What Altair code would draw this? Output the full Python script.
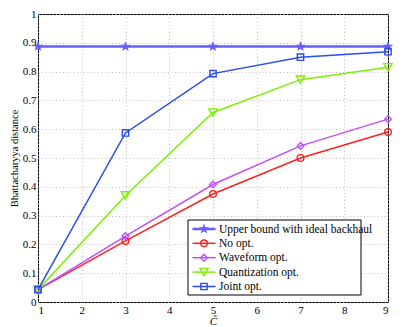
import math
import altair as alt
import pandas as pd

# ---- data ----
c_values = [1, 3, 5, 7, 9]
upper_bound = [0.887, 0.887, 0.887, 0.887, 0.887]
no_opt = [0.043, 0.212, 0.375, 0.500, 0.590]
waveform_opt = [0.043, 0.229, 0.408, 0.542, 0.635]
quant_opt = [0.043, 0.370, 0.658, 0.772, 0.815]
joint_opt = [0.043, 0.587, 0.793, 0.850, 0.869]

series_names = ["Upper bound with ideal backhaul", "No opt.", "Waveform opt.",
                "Quantization opt.", "Joint opt."]
series_values = [upper_bound, no_opt, waveform_opt, quant_opt, joint_opt]
x_ticks = [1, 2, 3, 4, 5, 6, 7, 8, 9]
y_ticks = [0, 0.1, 0.2, 0.3, 0.4, 0.5, 0.6, 0.7, 0.8, 0.9, 1.0]

# ---- styles ----
pts = []
for k in range(10):
    ang = -math.pi / 2 + k * math.pi / 5
    r = 1.0 if k % 2 == 0 else 0.42
    pts.append(f"{r*math.cos(ang):.3f},{r*math.sin(ang):.3f}")
STAR = "M" + "L".join(pts) + "Z"

colors = ["#6a5cff", "#ff2020", "#c050ff", "#7ef000", "#2a4cf0"]
shapes = [STAR, "circle", "diamond", "triangle-down", "square"]
sizes = [120, 45, 45, 70, 40]
filled = [True, False, False, False, False]
widths = [2.5, 1.5, 1.5, 1.5, 1.5]

FONT = "Liberation Serif"
W, H = 350, 288

xs = alt.Scale(domain=[1, 9], nice=False)
ys = alt.Scale(domain=[0, 1], nice=False)

layers = []
for name, vals, col, shp, sz, fl, lw in zip(series_names, series_values, colors,
                                            shapes, sizes, filled, widths):
    df = pd.DataFrame({"C": c_values, "D": vals, "series": name})
    base = alt.Chart(df).encode(
        x=alt.X("C:Q", scale=xs,
                axis=alt.Axis(values=x_ticks, title="C\u0303", format="d")),
        y=alt.Y("D:Q", scale=ys,
                axis=alt.Axis(values=y_ticks, title="Bhattacharyya distance",
                              format="~g")),
    )
    layers.append(base.mark_line(color=col, strokeWidth=lw))
    layers.append(base.mark_point(shape=shp, size=sz, filled=fl, color=col,
                                  strokeWidth=1.4, opacity=1))

# ---- legend box ----
lx0, lx1, ly0, ly1 = 150, 323, 206, 281
layers.append(alt.Chart(pd.DataFrame({"a": [0]})).mark_rect(
    fill="white", stroke="black", strokeWidth=1).encode(
    x=alt.value(lx0), x2=alt.value(lx1), y=alt.value(ly0), y2=alt.value(ly1)))

row_y = [215, 229.3, 243.7, 258.1, 272.5]
for name, col, shp, sz, fl, lw, ry in zip(series_names, colors, shapes, sizes,
                                          filled, widths, row_y):
    one = pd.DataFrame({"label": [name]})
    layers.append(alt.Chart(one).mark_rule(color=col, strokeWidth=lw).encode(
        x=alt.value(154.5), x2=alt.value(177.5), y=alt.value(ry)))
    layers.append(alt.Chart(one).mark_point(shape=shp, size=sz, filled=fl,
                                            color=col, strokeWidth=1.4,
                                            opacity=1).encode(
        x=alt.value(166), y=alt.value(ry)))
    layers.append(alt.Chart(one).mark_text(align="left", baseline="middle",
                                           font=FONT, fontSize=11.5,
                                           color="black").encode(
        x=alt.value(181), y=alt.value(ry + 0.5), text="label:N"))

chart = alt.layer(*layers).properties(
    width=W, height=H,
    autosize=alt.AutoSizeParams(type="none"),
    padding={"left": 30, "top": 6, "right": 13, "bottom": 32},
).configure_view(
    stroke="black", strokeWidth=1
).configure_text(
    font=FONT
).configure_axis(
    labelFont=FONT, titleFont=FONT, labelFontSize=11, titleFontSize=10.5,
    labelColor="black", titleColor="black", titleFontWeight="normal",
    domain=False, ticks=False, labelPadding=2,
    grid=True, gridColor="#b0b0b0", gridDash=[1, 2.5], gridWidth=0.8,
).configure_axisX(
    titlePadding=0, titleFontStyle="italic", titleFontSize=11
).configure_axisY(
    titlePadding=3, labelPadding=2
)

chart.save("out.html", embed_options={"renderer": "svg", "actions": False})
